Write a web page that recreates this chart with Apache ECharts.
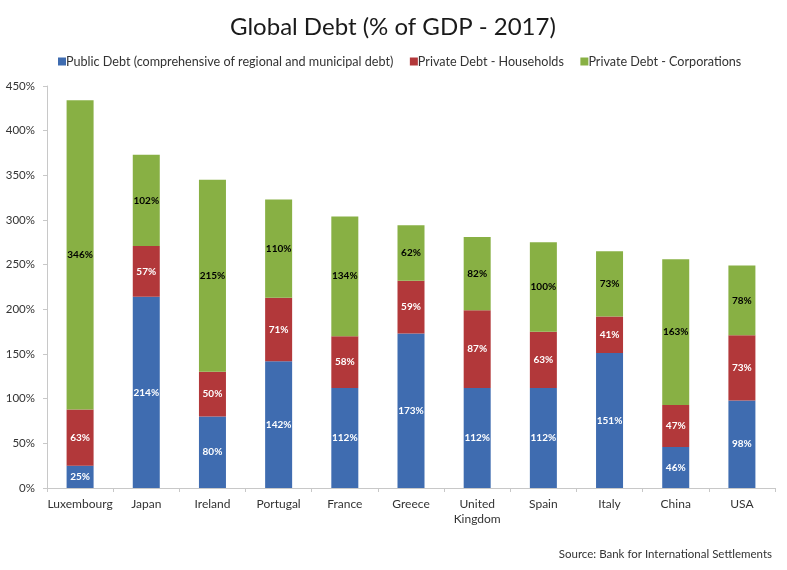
<!DOCTYPE html>
<html>
<head>
<meta charset="utf-8">
<style>
html, body { margin: 0; padding: 0; background: #fff; }
#chart { width: 787px; height: 570px; }
</style>
<script src="https://cdn.jsdelivr.net/npm/echarts@6/dist/echarts.min.js"></script>
</head>
<body>
<div id="chart"></div>
<script>
var categories = ['Luxembourg', 'Japan', 'Ireland', 'Portugal', 'France', 'Greece', 'United\nKingdom', 'Spain', 'Italy', 'China', 'USA'];
var publicDebt = [25, 214, 80, 142, 112, 173, 112, 112, 151, 46, 98];
var households = [63, 57, 50, 71, 58, 59, 87, 63, 41, 47, 73];
var corporations = [346, 102, 215, 110, 134, 62, 82, 100, 73, 163, 78];

var fontName = 'Lato';

function stackSeries(name, data, color, labelColor) {
    return {
        name: name,
        type: 'bar',
        stack: 'debt',
        barWidth: 27,
        data: data,
        itemStyle: { color: color },
        label: {
            show: true,
            position: 'inside',
            formatter: '{c}%',
            color: labelColor,
            fontFamily: fontName,
            fontSize: 10,
            fontWeight: 'bold'
        }
    };
}

var chart = echarts.init(document.getElementById('chart'));
chart.setOption({
    animation: false,
    backgroundColor: '#fff',
    title: [{
        text: 'Global Debt (% of GDP - 2017)',
        left: 225,
        top: 10,
        textStyle: { fontFamily: fontName, fontSize: 24, fontWeight: 'normal', color: '#1a1a1a' }
    }, {
        text: 'Source: Bank for International Settlements',
        right: 10,
        top: 543,
        textStyle: { fontFamily: fontName, fontSize: 11.5, fontWeight: 'normal', color: '#333' }
    }],
    legend: {
        top: 50,
        left: 53,
        itemWidth: 8,
        itemHeight: 8,
        itemGap: 16.5,
        icon: 'rect',
        textStyle: { fontFamily: fontName, fontSize: 12.6, color: '#333', padding: [0, 0, 0, -5] }
    },
    grid: { left: 47, right: 12, top: 86, bottom: 82 },
    xAxis: {
        type: 'category',
        data: categories,
        axisLine: { lineStyle: { color: '#c8c8c8', width: 1 } },
        axisTick: { show: true, length: 4, lineStyle: { color: '#c8c8c8' } },
        axisLabel: { fontFamily: fontName, fontSize: 12, color: '#333', margin: 9, interval: 0, lineHeight: 15 }
    },
    yAxis: {
        type: 'value',
        min: 0,
        max: 450,
        interval: 50,
        splitLine: { show: false },
        axisLine: { show: true, lineStyle: { color: '#c8c8c8', width: 1 } },
        axisTick: { show: true, length: 4, lineStyle: { color: '#c8c8c8' } },
        axisLabel: { fontFamily: fontName, fontSize: 11.5, color: '#333', margin: 12, formatter: '{value}%' }
    },
    series: [
        stackSeries('Public Debt (comprehensive of regional and municipal debt)', publicDebt, '#3f6cb0', '#fff'),
        stackSeries('Private Debt - Households', households, '#b2383a', '#fff'),
        stackSeries('Private Debt - Corporations', corporations, '#88b044', '#000')
    ]
});
</script>
</body>
</html>
